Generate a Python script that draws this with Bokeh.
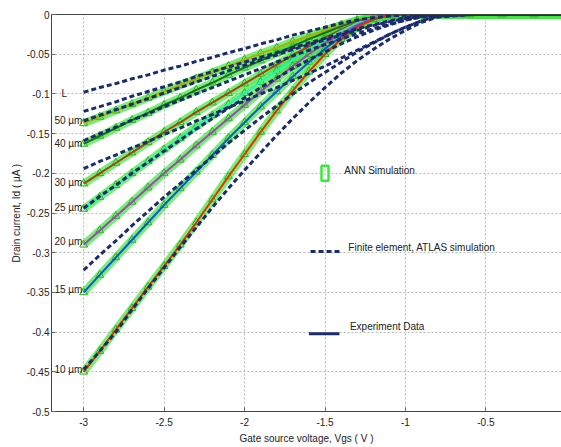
from bokeh.plotting import figure
from bokeh.models import LinearAxis, FixedTicker, Range1d, Label, ColumnDataSource
from bokeh.core.properties import value
from bokeh.embed import file_html
from bokeh.resources import INLINE

# ---------------- data ----------------
VGS = [-3.0, -2.9, -2.8, -2.7, -2.6, -2.5, -2.4, -2.3, -2.2, -2.1, -2.0, -1.9, -1.8,
       -1.7, -1.6, -1.5, -1.4, -1.3, -1.2, -1.1, -1.0, -0.9, -0.8, -0.6, -0.4, -0.2, 0.0]

LENGTH_LABELS = ["50 µm", "40 µm", "30 µm", "25 µm", "20 µm", "15 µm", "10 µm"]
LABEL_Y = [-0.134, -0.163, -0.212, -0.243, -0.286, -0.346, -0.447]

EXP_50 = [-0.137, -0.129, -0.121, -0.113, -0.105, -0.097, -0.089, -0.081, -0.073, -0.065, -0.057, -0.049, -0.042, -0.034, -0.027, -0.020, -0.013, -0.007, -0.003, -0.001, 0, 0, 0, 0, 0, 0, 0]
EXP_40 = [-0.163, -0.153, -0.143, -0.133, -0.124, -0.114, -0.105, -0.095, -0.086, -0.076, -0.067, -0.058, -0.049, -0.040, -0.031, -0.023, -0.015, -0.008, -0.003, -0.001, 0, 0, 0, 0, 0, 0, 0]
EXP_30 = [-0.213, -0.200, -0.187, -0.174, -0.161, -0.148, -0.136, -0.123, -0.111, -0.099, -0.087, -0.075, -0.063, -0.051, -0.040, -0.029, -0.019, -0.010, -0.004, -0.001, 0, 0, 0, 0, 0, 0, 0]
EXP_25 = [-0.245, -0.230, -0.215, -0.200, -0.185, -0.170, -0.156, -0.141, -0.127, -0.113, -0.099, -0.085, -0.071, -0.057, -0.044, -0.032, -0.021, -0.011, -0.004, -0.001, 0, 0, 0, 0, 0, 0, 0]
EXP_20 = [-0.290, -0.272, -0.254, -0.236, -0.218, -0.200, -0.183, -0.165, -0.148, -0.131, -0.114, -0.097, -0.081, -0.065, -0.050, -0.036, -0.024, -0.013, -0.005, -0.001, 0, 0, 0, 0, 0, 0, 0]
EXP_15 = [-0.350, -0.328, -0.306, -0.284, -0.262, -0.240, -0.219, -0.198, -0.177, -0.156, -0.136, -0.116, -0.097, -0.078, -0.060, -0.043, -0.028, -0.015, -0.006, -0.001, 0, 0, 0, 0, 0, 0, 0]
EXP_10 = [-0.450, -0.424, -0.397, -0.370, -0.343, -0.317, -0.290, -0.262, -0.233, -0.204, -0.176, -0.148, -0.121, -0.096, -0.072, -0.050, -0.031, -0.016, -0.006, -0.001, 0, 0, 0, 0, 0, 0, 0]

# ANN simulation follows the measured data
ANN_50, ANN_40, ANN_30, ANN_25, ANN_20, ANN_15, ANN_10 = EXP_50, EXP_40, EXP_30, EXP_25, EXP_20, EXP_15, EXP_10

ATLAS_1 = [-0.098, -0.092, -0.087, -0.081, -0.076, -0.070, -0.065, -0.059, -0.054, -0.048, -0.043, -0.037, -0.032, -0.026, -0.021, -0.016, -0.011, -0.007, -0.004, -0.002, -0.001, 0, 0, 0, 0, 0, 0]
ATLAS_2 = [-0.122, -0.116, -0.110, -0.103, -0.097, -0.091, -0.085, -0.078, -0.072, -0.066, -0.060, -0.054, -0.048, -0.042, -0.036, -0.030, -0.024, -0.018, -0.013, -0.008, -0.004, -0.002, -0.001, 0, 0, 0, 0]
ATLAS_3 = [-0.134, -0.127, -0.120, -0.113, -0.106, -0.099, -0.092, -0.085, -0.078, -0.071, -0.064, -0.057, -0.051, -0.044, -0.038, -0.032, -0.026, -0.020, -0.014, -0.009, -0.005, -0.002, -0.001, 0, 0, 0, 0]
ATLAS_4 = [-0.159, -0.150, -0.142, -0.133, -0.125, -0.116, -0.108, -0.100, -0.092, -0.084, -0.076, -0.068, -0.060, -0.052, -0.045, -0.038, -0.031, -0.024, -0.018, -0.012, -0.007, -0.003, -0.001, 0, 0, 0, 0]
ATLAS_5 = [-0.194, -0.185, -0.177, -0.168, -0.160, -0.151, -0.143, -0.134, -0.126, -0.117, -0.109, -0.100, -0.092, -0.083, -0.074, -0.065, -0.055, -0.045, -0.035, -0.025, -0.016, -0.008, -0.003, 0, 0, 0, 0]
ATLAS_6 = [-0.244, -0.229, -0.215, -0.200, -0.186, -0.172, -0.158, -0.144, -0.131, -0.118, -0.105, -0.092, -0.080, -0.068, -0.057, -0.047, -0.037, -0.028, -0.020, -0.013, -0.007, -0.003, -0.001, 0, 0, 0, 0]
ATLAS_7 = [-0.322, -0.303, -0.285, -0.266, -0.248, -0.230, -0.213, -0.196, -0.179, -0.162, -0.146, -0.130, -0.115, -0.100, -0.086, -0.073, -0.060, -0.047, -0.036, -0.025, -0.016, -0.008, -0.002, 0, 0, 0, 0]
ATLAS_8 = [-0.447, -0.424, -0.400, -0.372, -0.345, -0.319, -0.293, -0.268, -0.243, -0.219, -0.196, -0.174, -0.152, -0.131, -0.111, -0.092, -0.074, -0.058, -0.044, -0.031, -0.020, -0.010, -0.003, 0, 0, 0, 0]

X_TICKS = [-3, -2.5, -2, -1.5, -1, -0.5]
X_TICK_LABELS = ["-3", "-2.5", "-2", "-1.5", "-1", "-0.5"]
Y_TICKS = [0, -0.05, -0.1, -0.15, -0.2, -0.25, -0.3, -0.35, -0.4, -0.45, -0.5]
Y_TICK_LABELS = ["0", "-0.05", "-0.1", "-0.15", "-0.2", "-0.25", "-0.3", "-0.35", "-0.4", "-0.45", "-0.5"]

LEGEND_TEXT = ["ANN Simulation", "Finite element, ATLAS simulation", "Experiment Data"]

# ---------------- styles ----------------
FONT = "'Liberation Sans', Arial, sans-serif"
EXP_COLORS = ["#b8a800", "#1f6b1f", "#a8401a", "#22f0b8", "#a444b4", "#1a50d8", "#f02a00"]
ANN_COLOR = "#3ce83c"
ATLAS_COLOR = "#1b2b6b"

p = figure(width=561, height=447, x_range=Range1d(-3.2, -0.03), y_range=Range1d(-0.5, 0),
           output_backend="svg", toolbar_location=None,
           min_border_top=14, min_border_left=51, min_border_right=0, min_border_bottom=36)
p.outline_line_color = None
p.background_fill_color = "white"

exp_series = [EXP_50, EXP_40, EXP_30, EXP_25, EXP_20, EXP_15, EXP_10]
ann_series = [ANN_50, ANN_40, ANN_30, ANN_25, ANN_20, ANN_15, ANN_10]
atlas_series = [ATLAS_1, ATLAS_2, ATLAS_3, ATLAS_4, ATLAS_5, ATLAS_6, ATLAS_7, ATLAS_8]

# ANN band + markers
for ys in ann_series:
    p.line(VGS, ys, line_color=ANN_COLOR, line_width=8, line_alpha=0.7)
    p.scatter(VGS, ys, marker="triangle", size=8, fill_color=None, line_color="#28b828", line_width=1)

# experiment lines
for ys, c in zip(exp_series, EXP_COLORS):
    p.line(VGS, ys, line_color=c, line_width=2)

# ATLAS dashed lines
for ys in atlas_series:
    p.line(VGS, ys, line_color=ATLAS_COLOR, line_width=3, line_dash="5 3")

# length labels
src = ColumnDataSource(dict(x=[-3.008] * len(LENGTH_LABELS), y=LABEL_Y, t=LENGTH_LABELS))
p.text(x="x", y="y", text="t", source=src, text_align="right", text_baseline="middle",
       text_font=value(FONT), text_font_size="10px", text_color="#222222")
p.add_layout(Label(x=-3.12, y=-0.1, text="L", text_align="center", text_baseline="middle",
                   text_font=FONT, text_font_size="10px", text_color="#222222"))

# legend (hand drawn, as in the original)
p.rect(x=[-1.5], y=[-0.2], width=7, height=15, width_units="screen", height_units="screen",
       fill_color="white", line_color=ANN_COLOR, line_width=2.5)
p.segment(x0=[-1.5], y0=[-0.195], x1=[-1.5], y1=[-0.205], line_color="#88bb88", line_dash="2 2", line_width=1)
p.segment(x0=[-1.59], y0=[-0.2985], x1=[-1.41], y1=[-0.2985], line_color=ATLAS_COLOR, line_width=3, line_dash="5 3")
p.segment(x0=[-1.60], y0=[-0.402], x1=[-1.41], y1=[-0.402], line_color=ATLAS_COLOR, line_width=3)
for tx, ty, t in zip([-1.38, -1.355, -1.345], [-0.197, -0.294, -0.393], LEGEND_TEXT):
    p.add_layout(Label(x=tx, y=ty, text=t, text_align="left", text_baseline="middle",
                       text_font=FONT, text_font_size="10px", text_color="#222222"))

# axes
for ax in (p.xaxis[0], p.yaxis[0]):
    ax.axis_line_color = "#444444"
    ax.major_tick_in = 4
    ax.major_tick_out = 0
    ax.minor_tick_line_color = None
    ax.major_tick_line_color = "#666666"
    ax.major_label_text_font = FONT
    ax.major_label_text_font_size = "10px"
    ax.major_label_text_color = "#222222"
    ax.axis_label_text_font = FONT
    ax.axis_label_text_font_size = "10px"
    ax.axis_label_text_font_style = "normal"
    ax.axis_label_text_color = "#222222"

p.xaxis.ticker = FixedTicker(ticks=X_TICKS)
p.xaxis.major_label_overrides = dict(zip(X_TICKS, X_TICK_LABELS))
p.yaxis.ticker = FixedTicker(ticks=Y_TICKS)
p.yaxis.major_label_overrides = dict(zip(Y_TICKS, Y_TICK_LABELS))
p.xaxis.axis_label = "Gate source voltage, Vgs ( V )"
p.yaxis.axis_label = "Drain current, Id ( µA )"
p.xaxis.major_label_standoff = 6
p.xaxis.axis_label_standoff = 4
p.yaxis.major_label_standoff = 2
p.yaxis.axis_label_standoff = 2

top = LinearAxis(ticker=FixedTicker(ticks=[]), axis_line_color="#444444",
                 major_tick_line_color=None, minor_tick_line_color=None,
                 major_label_text_font_size="0px")
p.add_layout(top, "above")

p.xgrid.ticker = FixedTicker(ticks=X_TICKS)
p.ygrid.ticker = FixedTicker(ticks=Y_TICKS)
p.grid.grid_line_color = "#b8b8b8"
p.grid.grid_line_dash = "2 2"
p.grid.grid_line_width = 1

open("out.html", "w").write(file_html(p, INLINE))
